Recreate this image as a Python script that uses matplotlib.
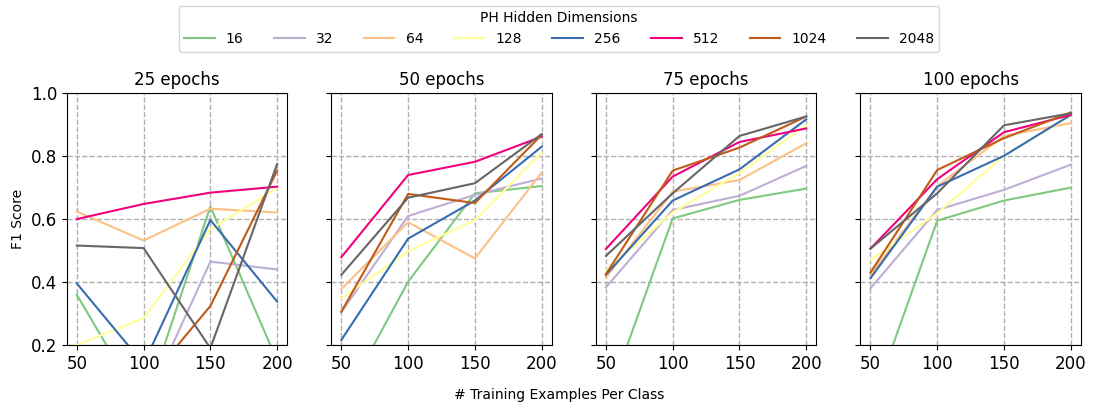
import matplotlib
matplotlib.use("Agg")
import matplotlib.pyplot as plt
import numpy as np

examples = [50, 100, 150, 200]
epochs = [25, 50, 75, 100]
dims = ["16", "32", "64", "128", "256", "512", "1024", "2048"]
colors = ["#7fc97f", "#beaed4", "#fdc086", "#ffff99", "#386cb0", "#f0027f", "#bf5b17", "#666666"]

# F1 scores, one list per hidden dim, for each epoch count
f1_25 = [
    [0.36, 0.00, 0.64, 0.15],
    [0.10, 0.00, 0.465, 0.44],
    [0.624, 0.532, 0.633, 0.621],
    [0.20, 0.285, 0.568, 0.698],
    [0.396, 0.14, 0.597, 0.338],
    [0.60, 0.648, 0.684, 0.703],
    [0.05, 0.07, 0.324, 0.754],
    [0.516, 0.508, 0.19, 0.775],
]
f1_50 = [
    [0.01, 0.401, 0.682, 0.705],
    [0.304, 0.61, 0.677, 0.729],
    [0.378, 0.59, 0.475, 0.748],
    [0.348, 0.498, 0.597, 0.811],
    [0.216, 0.538, 0.659, 0.83],
    [0.479, 0.74, 0.782, 0.862],
    [0.306, 0.68, 0.651, 0.868],
    [0.423, 0.668, 0.714, 0.87],
]
f1_75 = [
    [0.01, 0.602, 0.661, 0.697],
    [0.383, 0.629, 0.674, 0.769],
    [0.414, 0.687, 0.724, 0.841],
    [0.436, 0.621, 0.746, 0.899],
    [0.423, 0.659, 0.758, 0.917],
    [0.505, 0.735, 0.845, 0.888],
    [0.425, 0.754, 0.827, 0.926],
    [0.483, 0.682, 0.864, 0.926],
]
f1_100 = [
    [0.0, 0.595, 0.659, 0.70],
    [0.38, 0.629, 0.693, 0.773],
    [0.423, 0.705, 0.864, 0.905],
    [0.47, 0.619, 0.801, 0.928],
    [0.412, 0.703, 0.801, 0.931],
    [0.506, 0.727, 0.876, 0.931],
    [0.43, 0.756, 0.857, 0.939],
    [0.506, 0.682, 0.898, 0.936],
]
all_scores = [f1_25, f1_50, f1_75, f1_100]

fig, axes = plt.subplots(1, 4, figsize=(10.94, 4.05), dpi=100, sharey=True)
fig.subplots_adjust(left=0.061, right=0.988, top=0.770, bottom=0.148, wspace=0.2)

for ax, ep, scores in zip(axes, epochs, all_scores):
    for d, c, ys in zip(dims, colors, scores):
        ax.plot(examples, ys, color=c, lw=1.5, label=d)
    ax.set_title(f"{ep} epochs", fontsize=12)
    ax.set_ylim(0.2, 1.0)
    ax.set_xticks(examples)
    ax.set_yticks([0.2, 0.4, 0.6, 0.8, 1.0])
    ax.grid(True, linestyle="--", color="#b0b0b0", lw=1)
    ax.tick_params(labelsize=12)

axes[0].set_ylabel("F1 Score", fontsize=10)
fig.text(0.511, 0.015, "# Training Examples Per Class", ha="center", fontsize=10)

handles, labels = axes[0].get_legend_handles_labels()
fig.legend(handles, labels, loc="upper center", bbox_to_anchor=(0.511, 1.003), ncol=8,
           title="PH Hidden Dimensions", fontsize=10, title_fontsize=10,
           columnspacing=2.2, handlelength=2.2)

plt.savefig("out.png", dpi=100)
